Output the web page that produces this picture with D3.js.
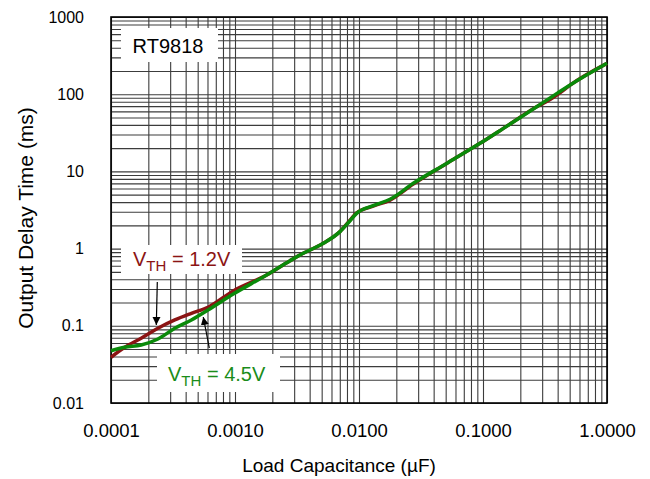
<!DOCTYPE html>
<html><head><meta charset="utf-8">
<script src="https://cdnjs.cloudflare.com/ajax/libs/d3/7.8.5/d3.min.js"></script>
<style>body{margin:0;background:#fff} svg{display:block}</style>
</head><body><svg id="c" width="650" height="479"></svg>
<script>
// ---- data ----
const xTickValues = [0.0001, 0.001, 0.01, 0.1, 1];
const xTickLabels = ["0.0001", "0.0010", "0.0100", "0.1000", "1.0000"];
const yTickValues = [0.01, 0.1, 1, 10, 100, 1000];
const yTickLabels = ["0.01", "0.1", "1", "10", "100", "1000"];

const capacitance = [0.0001, 0.000129, 0.000175, 0.000239, 0.000327, 0.000445, 0.000605, 0.000968,
  0.0018, 0.00278, 0.00334, 0.00515, 0.00703, 0.0082, 0.00957, 0.013, 0.0178, 0.0274,
  0.0509, 0.0946, 0.146, 0.271, 0.35, 0.42, 0.504, 1.0];
const delayVth12 = [0.0391, 0.0527, 0.0689, 0.0929, 0.119, 0.145, 0.174, 0.283,
  0.455, 0.697, 0.826, 1.17, 1.66, 2.2, 2.9, 3.55, 4.25, 6.85,
  12.7, 23.1, 36.1, 68.9, 86, 105, 131, 251];
const delayVth45 = [0.0475, 0.0527, 0.0564, 0.0675, 0.0929, 0.119, 0.160, 0.258,
  0.455, 0.697, 0.826, 1.17, 1.66, 2.16, 2.86, 3.60, 4.36, 7.01,
  12.7, 23.1, 36.1, 68.9, 90, 109, 131.5, 251];

// ---- layout ----
const svg = d3.select("#c");
const L = 111, R = 607, T = 17, B = 403;
const x = d3.scaleLog().domain([0.0001, 1]).range([L, R]);
const y = d3.scaleLog().domain([0.01, 1000]).range([B, T]);
const FONT = "'Liberation Sans', Arial, sans-serif";

// grid
const xGrid = [], yGrid = [];
for (let e = -4; e < 0; e++) for (let k = 1; k <= 9; k++) xGrid.push(k * Math.pow(10, e));
xGrid.push(1);
for (let e = -2; e < 3; e++) for (let k = 1; k <= 9; k++) yGrid.push(k * Math.pow(10, e));
yGrid.push(1000);

const gx = svg.append("g").attr("transform", `translate(0,${B})`)
  .call(d3.axisBottom(x).tickValues(xGrid).tickSize(-(B - T)).tickFormat(""));
const gy = svg.append("g").attr("transform", `translate(${L},0)`)
  .call(d3.axisLeft(y).tickValues(yGrid).tickSize(-(R - L)).tickFormat(""));
[gx, gy].forEach(g => {
  g.select(".domain").remove();
  g.selectAll(".tick line").attr("stroke", "#3c3c3c").attr("stroke-width", 1.1);
});

// tick labels
const lx = svg.append("g").attr("transform", `translate(0,${B})`)
  .call(d3.axisBottom(x).tickValues(xTickValues).tickSize(0).tickPadding(21)
    .tickFormat((d, i) => xTickLabels[i]));
lx.select(".domain").remove();
lx.selectAll("text").attr("font-family", FONT).attr("font-size", 18.5).attr("fill", "#000");

const ly = svg.append("g").attr("transform", `translate(${L},0)`)
  .call(d3.axisLeft(y).tickValues(yTickValues).tickSize(0).tickPadding(27)
    .tickFormat((d, i) => yTickLabels[i]));
ly.select(".domain").remove();
ly.selectAll("text").attr("font-family", FONT).attr("font-size", 16).attr("fill", "#000");

// frame
svg.append("rect").attr("x", L).attr("y", T).attr("width", R - L).attr("height", B - T)
  .attr("fill", "none").attr("stroke", "#000").attr("stroke-width", 1.6);

// axis titles
svg.append("text").attr("x", 339).attr("y", 472).attr("text-anchor", "middle")
  .attr("font-family", FONT).attr("font-size", 19).text("Load Capacitance (µF)");
svg.append("text").attr("transform", "translate(33,218) rotate(-90)").attr("text-anchor", "middle")
  .attr("font-family", FONT).attr("font-size", 21).text("Output Delay Time (ms)");

// label boxes
function box(x0, y0, w, h) {
  svg.append("rect").attr("x", x0).attr("y", y0).attr("width", w).attr("height", h).attr("fill", "#fff");
}
box(121, 28, 97, 34);
svg.append("text").attr("x", 168).attr("y", 53).attr("text-anchor", "middle")
  .attr("font-family", FONT).attr("font-size", 20).text("RT9818");

function vthLabel(x0, yb, color, rest) {
  const t = svg.append("text").attr("x", x0).attr("y", yb).attr("font-family", FONT)
    .attr("font-size", 20).attr("fill", color);
  t.append("tspan").text("V");
  t.append("tspan").attr("font-size", 15).attr("dy", 5).text("TH");
  t.append("tspan").attr("dy", -5).text(" " + rest);
}
box(121, 245, 121, 29);
vthLabel(133, 266, "#8b1414", "= 1.2V");
box(157, 354, 123, 38);
vthLabel(168, 381, "#1a8c1a", "= 4.5V");

// arrows
svg.append("defs").append("marker").attr("id", "ah").attr("viewBox", "0 0 10 10")
  .attr("refX", 10).attr("refY", 5).attr("markerWidth", 8).attr("markerHeight", 9)
  .attr("markerUnits", "userSpaceOnUse").attr("orient", "auto")
  .append("path").attr("d", "M0,0 L10,5 L0,10 Z").attr("fill", "#000");
svg.append("line").attr("x1", 157.3).attr("y1", 282).attr("x2", 156.3).attr("y2", 325)
  .attr("stroke", "#000").attr("stroke-width", 1.2).attr("marker-end", "url(#ah)");
svg.append("line").attr("x1", 209.3).attr("y1", 348).attr("x2", 203.3).attr("y2", 317)
  .attr("stroke", "#000").attr("stroke-width", 1.2).attr("marker-end", "url(#ah)");

// curves
const line = d3.line().x(d => x(d[0])).y(d => y(d[1])).curve(d3.curveMonotoneX);
svg.append("path").datum(capacitance.map((c, i) => [c, delayVth12[i]]))
  .attr("d", line).attr("fill", "none").attr("stroke", "#8b1414").attr("stroke-width", 3.5);
svg.append("path").datum(capacitance.map((c, i) => [c, delayVth45[i]]))
  .attr("d", line).attr("fill", "none").attr("stroke", "#0a8a0a").attr("stroke-width", 3.5);
</script></body></html>
